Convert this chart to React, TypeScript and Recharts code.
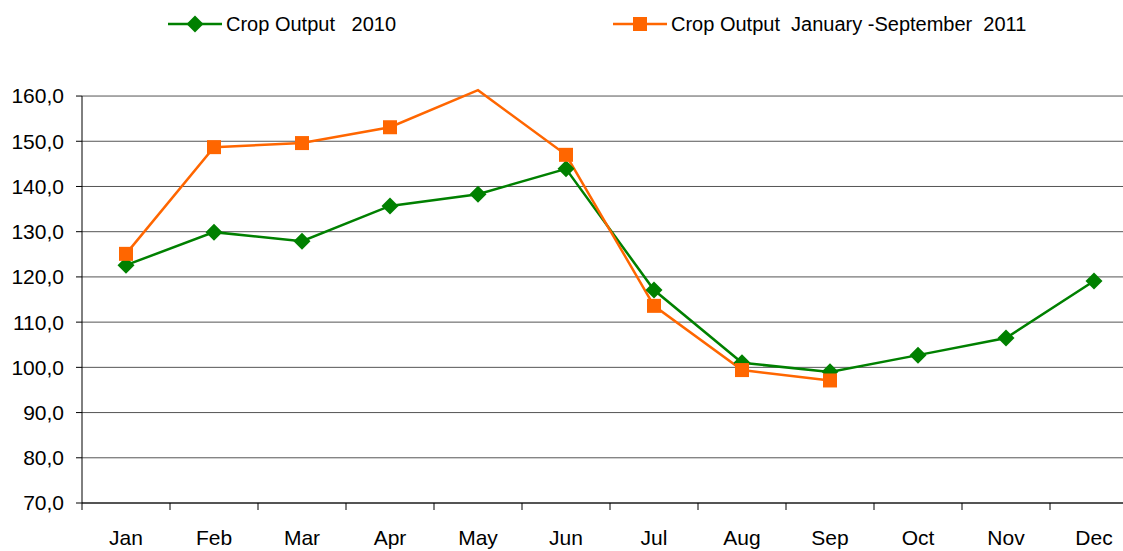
import React from 'react'
import { LineChart, Line, XAxis, YAxis, CartesianGrid, ReferenceLine } from 'recharts'

const months = ['Jan', 'Feb', 'Mar', 'Apr', 'May', 'Jun', 'Jul', 'Aug', 'Sep', 'Oct', 'Nov', 'Dec']
const output2010 = [122.6, 129.9, 127.9, 135.7, 138.3, 143.9, 117.1, 101.0, 99.0, 102.7, 106.5, 119.1]
const output2011 = [125.1, 148.7, 149.6, 153.1, 161.3, 147.0, 113.6, 99.4, 97.1, null, null, null]
const seriesNames = ['Crop Output   2010', 'Crop Output  January -September  2011']
const yTicks = [70, 80, 90, 100, 110, 120, 130, 140, 150, 160]

const GREEN = '#008000'
const ORANGE = '#FF6600'
const FONT = 'Arial, "Liberation Sans", sans-serif'
const LABEL_GAP = 27

const chartData = months.map((m, i) => ({
  month: m,
  y2010: output2010[i],
  y2011: output2011[i],
}))

const Diamond = (props: any) => {
  const { cx, cy, value } = props
  if (value == null || cx == null) return <g key={props.key} />
  const r = 8.5
  return (
    <polygon
      key={props.key}
      points={`${cx},${cy - r} ${cx + r},${cy} ${cx},${cy + r} ${cx - r},${cy}`}
      fill={GREEN}
    />
  )
}

// Excel drops the marker when the point sits above the plot top
const Square = (props: any) => {
  const { cx, cy, value } = props
  if (value == null || cx == null || value > 160) return <g key={props.key} />
  const r = 7
  return <rect key={props.key} x={cx - r} y={cy - r} width={r * 2} height={r * 2} fill={ORANGE} />
}

const LegendItem = ({ color, name, square, left }: any) => (
  <div style={{ position: 'absolute', left, top: 12, display: 'flex', alignItems: 'center', height: 24 }}>
    <svg width={56} height={24}>
      <line x1={0} y1={12} x2={54} y2={12} stroke={color} strokeWidth={2.5} />
      {square ? (
        <rect x={20} y={5} width={14} height={14} fill={color} />
      ) : (
        <polygon points="27,3.5 35.5,12 27,20.5 18.5,12" fill={color} />
      )}
    </svg>
    <span style={{ fontFamily: FONT, fontSize: 20, color: '#000', whiteSpace: 'pre', marginLeft: 2 }}>{name}</span>
  </div>
)

// month label in the band centre, tick mark on the band's left edge (Excel style)
const MonthTick = (props: any) => {
  const { x, y, width, visibleTicksCount, payload, index } = props
  const half = width / (visibleTicksCount || months.length) / 2
  const axisY = y - LABEL_GAP
  return (
    <g>
      <line x1={x - half} y1={axisY} x2={x - half} y2={axisY + 7} stroke="#000" strokeWidth={1} />
      {index === months.length - 1 && (
        <line x1={x + half} y1={axisY} x2={x + half} y2={axisY + 7} stroke="#000" strokeWidth={1} />
      )}
      <text x={x} y={y} dy="0.71em" textAnchor="middle" fill="#000" fontSize={21} fontFamily={FONT}>
        {payload.value}
      </text>
    </g>
  )
}

export default function App() {
  return (
    <div style={{ position: 'fixed', left: 0, top: 0, width: 1123, height: 551, overflow: 'hidden', background: '#fff' }}>
      <LegendItem color={GREEN} name={seriesNames[0]} left={168} />
      <LegendItem color={ORANGE} name={seriesNames[1]} square left={613} />
      <LineChart
        width={1150}
        height={551}
        data={chartData}
        margin={{ top: 87, right: 12, bottom: 0, left: 0 }}
        style={{ fontFamily: FONT }}
      >
        <CartesianGrid horizontal vertical={false} horizontalValues={yTicks} stroke="#555" strokeWidth={1} />
        <XAxis
          dataKey="month"
          scale="band"
          height={48}
          axisLine={{ stroke: '#000' }}
          tickLine={false}
          tickSize={0}
          tickMargin={LABEL_GAP}
          interval={0}
          tick={MonthTick}
        />
        <XAxis xAxisId="edges" type="number" domain={[0, months.length]} allowDataOverflow hide />
        <YAxis
          domain={[70, 162]}
          ticks={yTicks}
          allowDataOverflow
          width={82}
          axisLine={false}
          tickSize={6}
          tickMargin={12}
          tickLine={{ stroke: '#000' }}
          tickFormatter={(v: number) => v.toFixed(1).replace('.', ',')}
          tick={{ fill: '#000', fontSize: 21, fontFamily: FONT }}
        />
        <ReferenceLine
          xAxisId="edges"
          segment={[{ x: 0, y: 70 }, { x: 0, y: 160 }]}
          stroke="#000"
          strokeWidth={1}
        />
        <Line
          type="linear"
          dataKey="y2010"
          stroke={GREEN}
          strokeWidth={2.5}
          dot={Diamond}
          activeDot={false}
          isAnimationActive={false}
        />
        <Line
          type="linear"
          dataKey="y2011"
          stroke={ORANGE}
          strokeWidth={2.5}
          dot={Square}
          activeDot={false}
          connectNulls={false}
          isAnimationActive={false}
        />
      </LineChart>
    </div>
  )
}
